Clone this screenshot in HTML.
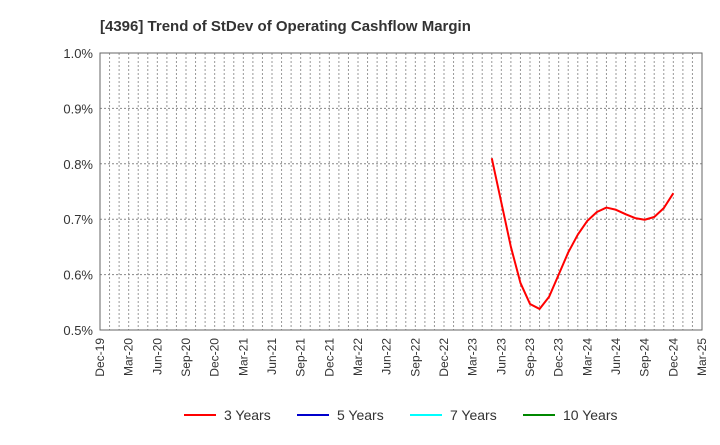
<!DOCTYPE html>
<html><head><meta charset="utf-8"><style>
body{margin:0;background:#fff;font-family:"Liberation Sans",sans-serif;}
</style></head><body>
<svg id="chart" width="720" height="440" xmlns="http://www.w3.org/2000/svg" font-family="Liberation Sans, sans-serif">
<text x="100" y="31" font-size="15" font-weight="bold" fill="#333">[4396]  Trend of StDev of Operating Cashflow Margin</text>
<g id="grid"></g><g id="axes"></g><g id="series"></g>
<g font-size="14" fill="#333">
<line x1="184" y1="415" x2="216" y2="415" stroke="#f00" stroke-width="2"/><text x="224" y="420">3 Years</text>
<line x1="297" y1="415" x2="329" y2="415" stroke="#00c" stroke-width="2"/><text x="337" y="420">5 Years</text>
<line x1="410" y1="415" x2="442" y2="415" stroke="#0ff" stroke-width="2"/><text x="450" y="420">7 Years</text>
<line x1="523" y1="415" x2="555" y2="415" stroke="#080" stroke-width="2"/><text x="563" y="420">10 Years</text>
</g>
</svg>
<script>
const xTickLabels=["Dec-19","Mar-20","Jun-20","Sep-20","Dec-20","Mar-21","Jun-21","Sep-21","Dec-21","Mar-22","Jun-22","Sep-22","Dec-22","Mar-23","Jun-23","Sep-23","Dec-23","Mar-24","Jun-24","Sep-24","Dec-24","Mar-25"];
const yTicks=[0.5,0.6,0.7,0.8,0.9,1.0];
const seriesStartMonth=41;
const values3y=[0.81,0.73,0.65,0.585,0.547,0.538,0.56,0.60,0.64,0.672,0.697,0.713,0.721,0.717,0.709,0.702,0.699,0.704,0.72,0.747];
const NS="http://www.w3.org/2000/svg";
const L=100,R=702,T=53,B=330,months=63;
const xs=m=>L+(R-L)*m/months;
const ys=v=>B-(v-0.5)/0.5*(B-T);
function mk(t,a,p){const e=document.createElementNS(NS,t);for(const k in a)e.setAttribute(k,a[k]);p.appendChild(e);return e;}
const grid=document.getElementById('grid'),axes=document.getElementById('axes'),ser=document.getElementById('series');
for(let m=1;m<months;m++){const l=mk('line',{x1:xs(m),x2:xs(m),y1:T,y2:B,stroke:'#999','stroke-dasharray':'2,2','stroke-width':1},grid);
}
yTicks.forEach(v=>{if(v>0.5&&v<1.0){const l=mk('line',{x1:L,x2:R,y1:ys(v),y2:ys(v),stroke:'#888','stroke-dasharray':'2,2'},grid);
}
const t=mk('text',{x:L-7,y:ys(v)+5,'text-anchor':'end','font-size':13,fill:'#333'},axes);t.textContent=v.toFixed(1)+'%';
});
const f=mk('rect',{x:L,y:T,width:R-L,height:B-T,fill:'none',stroke:'#666','stroke-width':1},axes);

xTickLabels.forEach((s,i)=>{const x=xs(i*3);const t=mk('text',{x:x+4,y:B+8,'text-anchor':'end','font-size':12,fill:'#333',transform:`rotate(-90 ${x+4} ${B+8})`},axes);t.textContent=s;
});
const pts=values3y.map((v,i)=>xs(seriesStartMonth+i)+','+ys(v)).join(' ');
const pl=mk('polyline',{points:pts,fill:'none',stroke:'#f00','stroke-width':2,'stroke-linejoin':'round'},ser);

</script>
</body></html>
